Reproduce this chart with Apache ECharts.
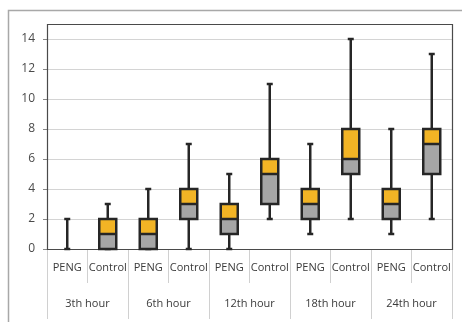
<!DOCTYPE html>
<html><head><meta charset="utf-8">
<script src="https://cdn.jsdelivr.net/npm/echarts@6/dist/echarts.min.js"></script>
<style>html,body{margin:0;padding:0;background:#fff}#c{width:462px;height:322px}</style>
</head><body><div id="c"></div>
<script>
const categories = ['PENG','Control','PENG','Control','PENG','Control','PENG','Control','PENG','Control'];
const groups = ['3th hour','6th hour','12th hour','18th hour','24th hour'];
const mins    = [0, 0, 0, 0, 0, 2, 1, 2, 1, 2];
const q1s     = [0, 0, 0, 2, 1, 3, 2, 5, 2, 5];
const medians = [0, 1, 1, 3, 2, 5, 3, 6, 3, 7];
const q3s     = [0, 2, 2, 4, 3, 6, 4, 8, 4, 8];
const maxs    = [2, 3, 4, 7, 5, 11, 7, 14, 8, 13];
const yTicks  = [0, 2, 4, 6, 8, 10, 12, 14];

const data = categories.map((c, i) => [i, mins[i], q1s[i], medians[i], q3s[i], maxs[i]]);
const DARK = '#262626', ORANGE = '#F2B425', GRAY = '#A6A6A6';
const G = {left: 47, right: 10, top: 24, bottom: 73};

function renderItem(params, api) {
  const x = api.value(0);
  const pMin = api.coord([x, api.value(1)]);
  const pQ1 = api.coord([x, api.value(2)]);
  const pMed = api.coord([x, api.value(3)]);
  const pQ3 = api.coord([x, api.value(4)]);
  const pMax = api.coord([x, api.value(5)]);
  const bw = 17, cw = 6, cx = pMin[0];
  const st = {stroke: DARK, lineWidth: 2.5, fill: null};
  const ch = [
    {type: 'line', shape: {x1: cx, y1: pMin[1], x2: cx, y2: pMax[1]}, style: st},
    {type: 'line', shape: {x1: cx - cw/2, y1: pMax[1], x2: cx + cw/2, y2: pMax[1]}, style: st},
    {type: 'line', shape: {x1: cx - cw/2, y1: pMin[1], x2: cx + cw/2, y2: pMin[1]}, style: st}
  ];
  if (pQ1[1] - pQ3[1] > 0.5) {
    ch.push({type: 'rect', shape: {x: cx - bw/2, y: pMed[1], width: bw, height: pQ1[1] - pMed[1]}, style: {fill: GRAY}});
    ch.push({type: 'rect', shape: {x: cx - bw/2, y: pQ3[1], width: bw, height: pMed[1] - pQ3[1]}, style: {fill: ORANGE}});
    ch.push({type: 'line', shape: {x1: cx - bw/2, y1: pMed[1], x2: cx + bw/2, y2: pMed[1]}, style: st});
    ch.push({type: 'rect', shape: {x: cx - bw/2, y: pQ3[1], width: bw, height: pQ1[1] - pQ3[1]}, style: st});
  }
  return {type: 'group', children: ch};
}

const chart = echarts.init(document.getElementById('c'), null, {renderer: 'canvas'});
chart.setOption({
  animation: false,
  backgroundColor: '#fff',
  graphic: [
    {type: 'rect', z: -10, silent: true, shape: {x: 8.5, y: 10.5, width: 470, height: 330}, style: {fill: null, stroke: '#a8a8a8', lineWidth: 1.5}},
    {type: 'rect', z: 3, silent: true, shape: {x: G.left + 0.5, y: G.top + 0.5, width: 462 - G.left - G.right, height: 322 - G.top - G.bottom}, style: {fill: null, stroke: '#4a4a4a', lineWidth: 1.2}}
  ],
  grid: G,
  xAxis: [
    {type: 'category', data: categories, position: 'bottom',
     axisLine: {show: true, lineStyle: {color: '#4a4a4a', width: 1.2}},
     axisTick: {show: true, interval: 0, length: 34, lineStyle: {color: '#d0d0d0'}},
     axisLabel: {interval: 0, margin: 13, color: '#3a3a3a', fontSize: 11, fontFamily: 'Open Sans'}},
    {type: 'category', data: groups, position: 'bottom', offset: 34,
     axisLine: {show: false},
     axisTick: {show: true, interval: 0, length: 36, lineStyle: {color: '#d0d0d0'}},
     axisLabel: {interval: 0, margin: 15, color: '#3a3a3a', fontSize: 11, fontFamily: 'Open Sans'}}
  ],
  yAxis: {type: 'value', min: 0, max: 15, interval: 2,
    axisLine: {show: false},
    axisTick: {show: true, length: 4, lineStyle: {color: '#888'}},
    axisLabel: {margin: 12, color: '#4a4a4a', fontSize: 12, fontFamily: 'Open Sans', showMaxLabel: false,
      formatter: v => yTicks.indexOf(v) >= 0 ? String(v) : ''},
    splitLine: {lineStyle: {color: '#d4d4d4', width: 1}}},
  series: [{type: 'custom', xAxisIndex: 0, renderItem: renderItem, data: data,
    encode: {x: 0, y: [1, 2, 3, 4, 5]}, clip: false, z: 5}]
});
</script></body></html>
